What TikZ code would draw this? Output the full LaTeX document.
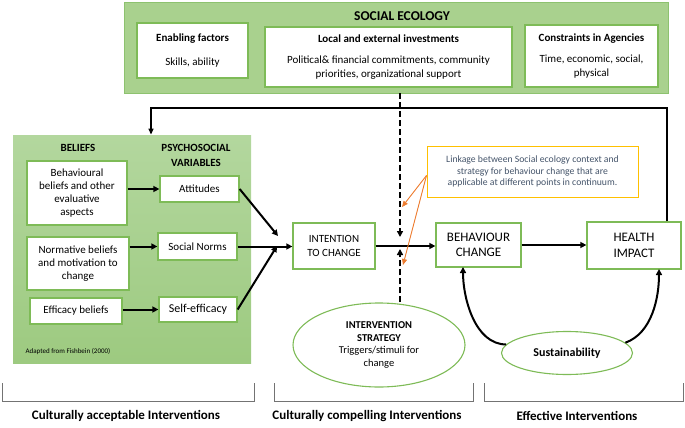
\documentclass[tikz,border=0pt]{standalone}
\usepackage{fontspec}
\setmainfont{Carlito}
\usetikzlibrary{positioning,arrows.meta,shapes.geometric}
\definecolor{ecogreen}{HTML}{A9D18E}
\definecolor{ecoedge}{HTML}{8DC26F}
\definecolor{beltop}{HTML}{B3D79E}
\definecolor{belbot}{HTML}{9DCA80}
\definecolor{boxedge}{HTML}{7EBB57}
\definecolor{linkorange}{HTML}{ED7D31}
\definecolor{linkyellow}{HTML}{FFC000}
\definecolor{linktext}{HTML}{44546A}
\newcommand{\fsz}[1]{\fontsize{#1pt}{1.2\dimexpr#1pt\relax}\selectfont}

\begin{document}
\begin{tikzpicture}[
  x=1pt,y=-1pt,
  panel/.style={draw=ecoedge,line width=0.8pt,inner sep=0pt},
  box/.style={draw=boxedge,line width=1.3pt,fill=white,align=center,inner sep=1pt,
    font=\fsz{11}},
  ova/.style={ellipse,draw=boxedge,line width=1.1pt,fill=white,align=center,inner sep=0pt},
  hdr/.style={font=\bfseries\fsz{11},align=center},
  arr/.style={-{Triangle[length=6pt,width=6pt]},line width=2pt},
  dasharr/.style={-{Triangle[length=6pt,width=6pt]},line width=2pt,dash pattern=on 6pt off 3pt},
  fb/.style={-{Triangle[length=6pt,width=5pt]},line width=1.2pt},
  link/.style={-{Triangle[length=6pt,width=5pt]},line width=0.9pt,draw=linkorange,fill=linkorange},
  brk/.style={draw=black!55,line width=1pt},
  foot/.style={font=\bfseries\fsz{13}}]
\useasboundingbox (0,0) rectangle (685,428);
% social ecology
\node[panel,fill=ecogreen,minimum width=544pt,minimum height=91pt] (eco) at (396,47.5) {};
\node[font=\bfseries\fsz{13.5}] (ecot) at (402,16) {SOCIAL ECOLOGY};
\node[box,minimum width=111pt,minimum height=55pt] (enab) at (192.5,50.5)
  {\textbf{Enabling factors}\\[10pt]Skills, ability};
\node[box,minimum width=247pt,minimum height=60pt] (invest) at (388.5,57)
  {\textbf{Local and external investments}\\[8pt]Political\& financial commitments, community\\priorities, organizational support};
\node[box,minimum width=133pt,minimum height=62pt] (constr) at (591.5,56)
  {\textbf{Constraints in Agencies}\\[8pt]Time, economic, social,\\physical};
% beliefs panel
\node[panel,draw=none,top color=beltop,bottom color=belbot,
  minimum width=238pt,minimum height=228pt] (belief) at (132,249) {};
\node[hdr] (belt) at (78,148) {BELIEFS};
\node[hdr,font={\bfseries\fontsize{11pt}{15pt}\selectfont}] (psyt) at (196,155) {PSYCHOSOCIAL\\VARIABLES};
\node[box,minimum width=100pt,minimum height=64pt] (behav) at (77,193)
  {Behavioural\\beliefs and other\\evaluative\\aspects};
\node[box,minimum width=79pt,minimum height=26pt] (attit) at (199.5,189) {Attitudes};
\node[box,minimum width=102pt,minimum height=53pt] (norm) at (78,263.5)
  {Normative beliefs\\and motivation to\\change};
\node[box,minimum width=79pt,minimum height=27pt] (snorm) at (197.5,246.5) {Social Norms};
\node[box,minimum width=92pt,minimum height=26pt] (effb) at (76,311) {Efficacy beliefs};
\node[box,minimum width=78pt,minimum height=25pt,font=\fsz{12}] (selfe) at (198,309.5) {Self-efficacy};
\node[anchor=west,font=\fsz{7}] (src) at (22,352) {Adapted from Fishbein (2000)};
% main chain
\coordinate (convA) at (278,236);
\coordinate (convB) at (277,246);
\node[box,minimum width=82pt,minimum height=46pt] (intent) at (334,246)
  {INTENTION\\TO CHANGE};
\node[box,minimum width=85pt,minimum height=44pt,font=\fsz{13}] (bchange) at (478.5,245)
  {BEHAVIOUR\\CHANGE};
\node[box,minimum width=94pt,minimum height=47pt,font=\fsz{13}] (health) at (634,245.5)
  {HEALTH\\IMPACT};
\node[box,draw=linkyellow,line width=1pt,minimum width=211pt,minimum height=51pt,
  text=linktext,font=\fsz{9.7}] (linkage) at (532.5,171.5)
  {Linkage between Social ecology context and\\strategy for behaviour change that are\\applicable at different points in continuum.};
\node[ova,minimum width=172pt,minimum height=84pt,font=\fsz{10.5}] (strat) at (379,345)
  {\textbf{INTERVENTION}\\\textbf{STRATEGY}\\Triggers/stimuli for\\change};
\node[ova,minimum width=131pt,minimum height=43pt,font=\bfseries\fsz{12}] (sust) at (567,353)
  {Sustainability};
\coordinate (dtop) at (400,237);
\coordinate (dbot) at (400,249);
\coordinate (fbR) at (667,108);
\coordinate (fbL) at (151,108);
\coordinate (bcfoot) at (463,267);
\coordinate (hifoot) at (659,269);
\coordinate (la1) at (402,207);
\coordinate (la2) at (403,265);
% connectors
\draw[arr] (behav.east |- attit) -- (attit.west);
\draw[arr] (norm.east |- snorm) -- (snorm.west);
\draw[arr] (effb.east |- selfe) -- (selfe.west);
\draw[arr] (attit.east) -- (convA);
\draw[arr] (snorm.east) -- (intent.west |- snorm.east);
\draw[arr] (selfe.east) -- (convB);
\draw[arr] (intent.east) -- (bchange.west |- intent.east);
\draw[arr] (bchange.east) -- (health.west |- bchange.east);
\draw[dasharr] (eco.south -| dtop) -- (dtop);
\draw[dasharr] (dbot |- strat.north) -- (dbot);
\draw[fb] (health.north -| fbR) -- (fbR) -- (fbL) -- (fbL |- belief.north);
\draw[arr] (sust.172) to[out=180,in=-90,looseness=0.9] (bcfoot);
\draw[arr] (sust.10) to[out=20,in=-90,looseness=0.9] (hifoot);
\draw[link] ([yshift=-4pt]linkage.west) -- (la1);
\draw[link] ([yshift=-4pt]linkage.west) -- (la2);
% continuum brackets
\foreach \xa/\xb in {2/254,274/473,484/683}
  \draw[brk] (\xa,383) -- (\xa,401) -- (\xb,401) -- (\xb,383);
\node[foot] (cacc) at (126,416) {Culturally acceptable Interventions};
\node[foot] (ccomp) at (367,416) {Culturally compelling Interventions};
\node[foot] (ceff) at (577,416) {Effective Interventions};
\end{tikzpicture}
\end{document}
